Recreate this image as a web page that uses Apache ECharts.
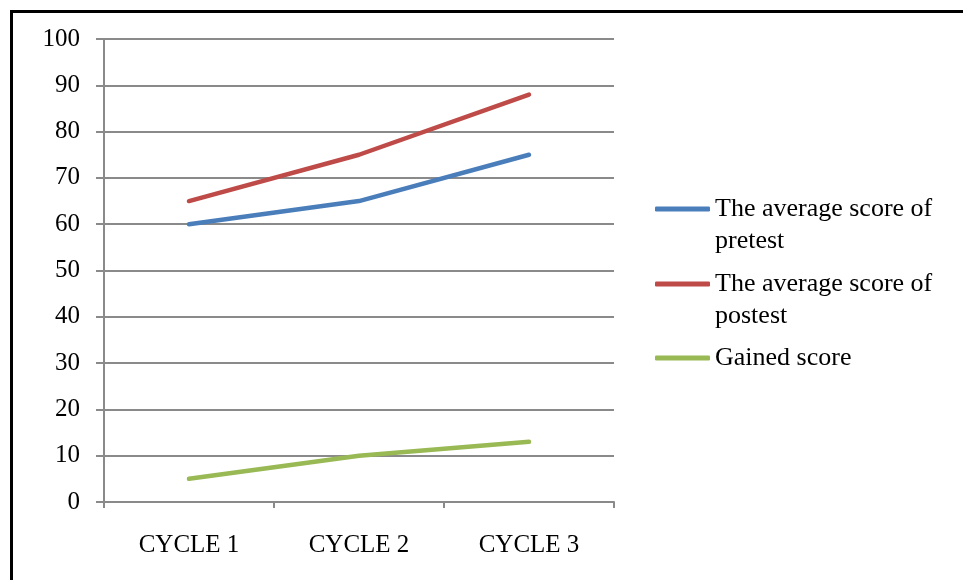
<!DOCTYPE html>
<html>
<head>
<meta charset="utf-8">
<script src="https://cdn.jsdelivr.net/npm/echarts@6/dist/echarts.min.js"></script>
<style>
  html, body { margin: 0; padding: 0; background: #fff; }
  #chart { width: 963px; height: 580px; }
</style>
</head>
<body>
<div id="chart"></div>
<script>
// Average scores per cycle
const cycles = ['CYCLE 1', 'CYCLE 2', 'CYCLE 3'];
const pretest = [60, 65, 75];
const postest = [65, 75, 88];
const gained = [5, 10, 13];
const seriesNames = ['The average score of pretest', 'The average score of postest', 'Gained score'];
const seriesColors = ['#4a7ebb', '#be4b48', '#98b954'];

const FONT = '"Liberation Serif", "Times New Roman", serif';
const chart = echarts.init(document.getElementById('chart'), null, { renderer: 'canvas' });

function lineSeries(name, data, color) {
  return {
    name: name,
    type: 'line',
    data: data,
    symbol: 'none',
    smooth: false,
    lineStyle: { color: color, width: 4.5, cap: 'round', join: 'round' },
    itemStyle: { color: color },
    emphasis: { disabled: true }
  };
}

// one legend block per series so each entry can be placed on its own;
// wrapped names get a leading blank line so the key sits on the first line
function legendBlock(name, top, twoLines) {
  return {
    orient: 'vertical',
    left: 650,
    top: top,
    selectedMode: false,
    icon: 'roundRect',
    itemWidth: 55,
    itemHeight: 5,
    data: [{ name: name }],
    formatter: function (n) {
      return twoLines ? '\n' + n.replace(' of ', ' of\n') : n;
    },
    textStyle: {
      fontFamily: FONT,
      fontSize: 26,
      color: '#000',
      lineHeight: 32
    }
  };
}

chart.setOption({
  animation: false,
  backgroundColor: '#fff',
  graphic: [{
    type: 'rect',
    shape: { x: 11.5, y: 11.5, width: 1200, height: 1200 },
    style: { fill: null, stroke: '#000', lineWidth: 3 },
    z: 10
  }],
  grid: { left: 104, right: 349, top: 39, bottom: 78 },
  legend: [
    legendBlock(seriesNames[0], 156, true),
    legendBlock(seriesNames[1], 231, true),
    legendBlock(seriesNames[2], 337, false)
  ],
  xAxis: {
    type: 'category',
    data: cycles,
    boundaryGap: true,
    axisLine: { lineStyle: { color: '#8a8a8a', width: 2 } },
    axisTick: { show: true, length: 6, lineStyle: { color: '#8a8a8a', width: 2 } },
    axisLabel: { fontFamily: FONT, fontSize: 25, color: '#000', margin: 31 }
  },
  yAxis: {
    type: 'value',
    min: 0,
    max: 100,
    interval: 10,
    axisLine: { show: true, lineStyle: { color: '#8a8a8a', width: 2 } },
    axisTick: { show: true, length: 8, lineStyle: { color: '#8a8a8a', width: 2 } },
    splitLine: { show: true, lineStyle: { color: '#8a8a8a', width: 2 } },
    axisLabel: { fontFamily: FONT, fontSize: 25, color: '#000', margin: 24 }
  },
  series: [
    lineSeries(seriesNames[0], pretest, seriesColors[0]),
    lineSeries(seriesNames[1], postest, seriesColors[1]),
    lineSeries(seriesNames[2], gained, seriesColors[2])
  ]
});
</script>
</body>
</html>
